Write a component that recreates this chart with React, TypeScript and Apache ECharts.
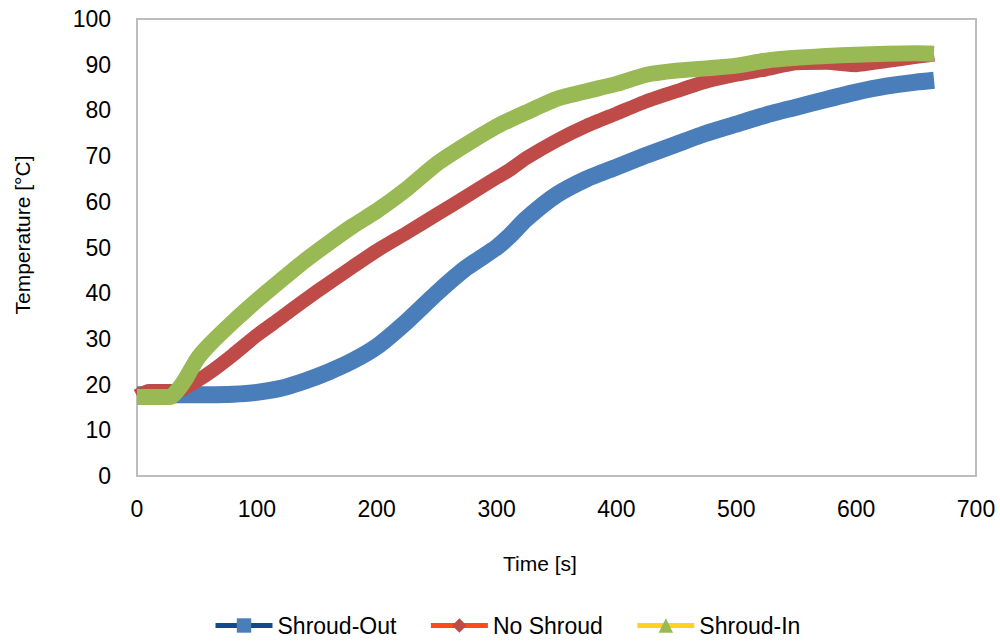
import React, { useEffect, useRef } from "react";
import * as echarts from "echarts";

const times = [0, 10, 20, 28, 32, 36, 40, 50, 60, 80, 100, 120, 140, 160, 180, 200, 225, 250, 275, 300, 310, 325, 350, 375, 400, 425, 450, 475, 500, 525, 550, 575, 600, 625, 650, 665];

const shroudOut = [17.8, 17.8, 17.8, 17.8, 17.8, 17.8, 17.8, 17.8, 17.8, 17.9, 18.3, 19.2, 20.8, 22.8, 25.2, 28.3, 33.8, 40.0, 45.6, 50.0, 52.3, 56.3, 61.5, 65.0, 67.6, 70.2, 72.6, 75.0, 77.0, 79.0, 80.7, 82.4, 84.0, 85.3, 86.2, 86.6];

const noShroud = [17.5, 18.6, 18.6, 18.6, 18.6, 18.7, 19.2, 20.8, 22.5, 26.5, 30.8, 34.6, 38.5, 42.2, 45.8, 49.3, 53.2, 57.2, 61.2, 65.3, 66.8, 69.6, 73.4, 76.6, 79.3, 82.0, 84.2, 86.3, 87.8, 89.0, 90.3, 90.4, 89.9, 90.8, 91.7, 92.2];

const shroudIn = [17.3, 17.3, 17.3, 17.3, 18.2, 19.5, 21.0, 25.5, 28.6, 33.7, 38.4, 42.8, 47.1, 51.0, 54.7, 58.0, 62.8, 68.3, 72.6, 76.5, 77.8, 79.6, 82.5, 84.2, 85.8, 87.8, 88.7, 89.2, 89.8, 90.9, 91.5, 91.9, 92.2, 92.4, 92.5, 92.4];

const seriesNames = ["Shroud-Out", "No Shroud", "Shroud-In"];
const xTitle = "Time [s]";
const yTitle = "Temperature [°C]";

const FONT = "'Liberation Sans', Arial, sans-serif";

function pairs(ys: number[]) {
  return times.map((t, i) => [t, ys[i]]);
}

export default function App() {
  const ref = useRef<HTMLDivElement>(null);
  useEffect(() => {
    if (!ref.current) return;
    const chart = echarts.init(ref.current, undefined, { renderer: "svg" });
    const markerColors = ["#4A7EBB", "#BE4B48", "#98B954"];
    const legendLineColors = ["#12498A", "#FF4A1C", "#FFD21F"];
    const symbols = ["rect", "diamond", "triangle"];
    const widths = [17, 14, 16];
    const dataSets = [shroudOut, noShroud, shroudIn];
    chart.setOption({
      animation: false,
      backgroundColor: "#ffffff",
      textStyle: { fontFamily: FONT },
      grid: {
        left: 137,
        right: 24,
        top: 19,
        bottom: 165,
        show: true,
        borderColor: "#BDBDBD",
        borderWidth: 2,
        containLabel: false,
      },
      xAxis: {
        type: "value",
        min: 0,
        max: 700,
        interval: 100,
        axisLine: { show: false },
        axisTick: { show: false },
        splitLine: { show: false },
        axisLabel: { fontSize: 23, color: "#000", margin: 21, fontFamily: FONT },
      },
      yAxis: {
        type: "value",
        min: 0,
        max: 100,
        interval: 10,
        axisLine: { show: false },
        axisTick: { show: false },
        splitLine: { show: false },
        axisLabel: { fontSize: 23, color: "#000", margin: 26, fontFamily: FONT },
      },
      legend: {
        left: 213,
        top: 614,
        padding: 0,
        itemWidth: 57,
        itemHeight: 18,
        itemGap: 32,
        textStyle: { fontSize: 23, color: "#000", fontFamily: FONT },
        data: seriesNames.map((n, i) => ({
          name: n,
          itemStyle: { color: markerColors[i], borderWidth: 0 },
          lineStyle: { color: legendLineColors[i], width: 5 },
        })),
      },
      graphic: [
        {
          type: "text",
          x: 540,
          y: 563,
          style: {
            text: xTitle,
            fontSize: 21,
            fontFamily: FONT,
            fill: "#000",
            align: "center",
            verticalAlign: "middle",
          },
        },
        {
          type: "text",
          x: 22,
          y: 235,
          rotation: Math.PI / 2,
          style: {
            text: yTitle,
            fontSize: 21,
            fontFamily: FONT,
            fill: "#000",
            align: "center",
            verticalAlign: "middle",
          },
        },
      ],
      series: seriesNames.map((n, i) => ({
        name: n,
        type: "line",
        data: pairs(dataSets[i]),
        symbol: symbols[i],
        showSymbol: false,
        smooth: 0.2,
        itemStyle: { color: markerColors[i] },
        lineStyle: { color: markerColors[i], width: widths[i], join: "round", cap: "butt" },
        emphasis: { disabled: true },
      })),
    });
    return () => chart.dispose();
  }, []);
  return (
    <div
      ref={ref}
      style={{ position: "fixed", left: 0, top: 0, width: 1000, height: 641, background: "#fff" }}
    />
  );
}
